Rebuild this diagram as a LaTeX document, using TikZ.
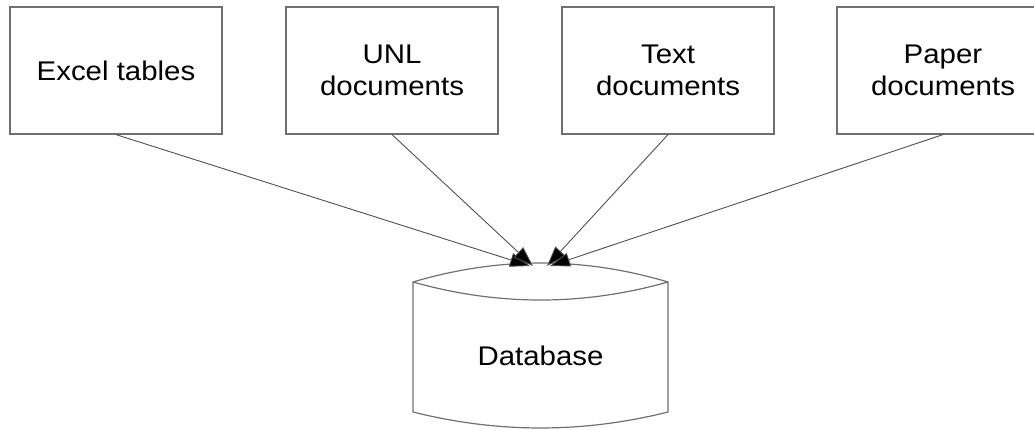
\documentclass[tikz,border=0pt]{standalone}
\usepackage{fontspec}
\setmainfont{Liberation Sans}[FakeStretch=1.09]
\usetikzlibrary{arrows.meta}
\definecolor{edge}{HTML}{707070}
\definecolor{conn}{HTML}{505050}
\begin{document}
\begin{tikzpicture}[x=1pt,y=-1pt,
  srcbox/.style={draw=edge,line width=1.2pt,minimum width=212pt,minimum height=127pt,
    align=center,inner sep=0pt,font=\fontsize{27}{32}\selectfont},
  feed/.style={draw=conn,line width=0.9pt,-{Triangle[length=20pt,width=14pt,fill=black]}},
  dbline/.style={draw=edge,line width=1.2pt}]
\useasboundingbox (0,0) rectangle (1034,429);
\node[srcbox] (excel) at (116,70.5) {Excel tables};
\node[srcbox] (unl) at (392,70.5) {UNL\\documents};
\node[srcbox] (text) at (668,70.5) {Text\\documents};
\node[srcbox] (paper) at (943,70.5) {Paper\\documents};
% database cylinder
\draw[dbline] (413,282) .. controls (498,256.7) and (583,256.7) .. (668,282)
  -- (668,412) .. controls (583,433.3) and (498,433.3) .. (413,412) -- cycle;
\draw[dbline] (413,282) .. controls (498,306) and (583,306) .. (668,282);
\node[font=\fontsize{27}{32}\selectfont] (db) at (540.5,356) {Database};
\coordinate (t1) at (530,266);
\coordinate (t2) at (533,266);
\coordinate (t3) at (547,266);
\coordinate (t4) at (550,266);
\draw[feed] (excel.south) -- (t1);
\draw[feed] (unl.south) -- (t2);
\draw[feed] (text.south) -- (t3);
\draw[feed] (paper.south) -- (t4);
\end{tikzpicture}
\end{document}
